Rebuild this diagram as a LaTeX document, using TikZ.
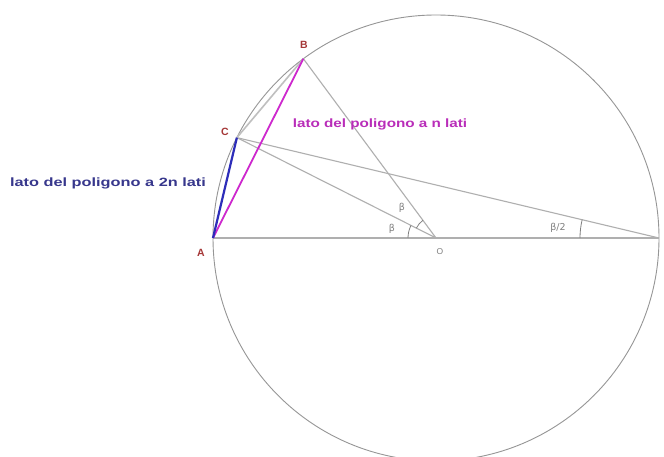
\documentclass[tikz,border=0pt]{standalone}
\usepackage{fontspec}
\setmainfont{Liberation Sans}
\newfontfamily\greekfont{DejaVu Sans}
\usetikzlibrary{calc}
\definecolor{linegray}{RGB}{175,175,175}
\definecolor{circgray}{RGB}{150,150,150}
\definecolor{mag}{RGB}{205,40,205}
\definecolor{bluel}{RGB}{45,45,185}
\definecolor{bluetext}{RGB}{55,55,140}
\definecolor{magtext}{RGB}{185,45,185}
\definecolor{ptred}{RGB}{165,55,55}
\begin{document}
\begin{tikzpicture}[x=1pt,y=1pt,
  seg/.style={draw=linegray,line width=1.1pt},
  ptlabel/.style={text=ptred,font=\bfseries\fontsize{10.5}{12}\selectfont,inner sep=0pt},
  anglabel/.style={text=gray,font=\greekfont\fontsize{9.5}{11}\selectfont,inner sep=0pt},
  caption/.style={font=\bfseries\fontsize{12}{14}\selectfont,inner sep=0pt}]
\useasboundingbox (0,0) rectangle (664,457);
\fill[white] (0,0) rectangle (664,457);
\coordinate (O) at (436,219);
\coordinate (A) at ($(O)+(180:223)$);
\coordinate (D) at ($(O)+(0:223)$);
\coordinate (B) at ($(O)+(126.5:223)$);
\coordinate (C) at ($(O)+(153.25:223)$);
% circle
\draw[circgray,line width=0.9pt] (O) circle (223);
% gray segments
\draw[seg] (A) -- (D);
\draw[seg] (B) -- (O);
\draw[seg] (C) -- (O);
\draw[seg] (C) -- (D);
\draw[seg,line width=1.6pt,draw=linegray!80] (C) -- (B);
% coloured sides
\draw[mag,line width=1.8pt] (A) -- (B);
\draw[bluel,line width=2.2pt] (A) -- (C);
% angle arcs
\draw[gray,line width=0.8pt] ($(O)+(153.25:28)$) arc[start angle=153.25,end angle=180,radius=28];
\draw[gray,line width=0.8pt] ($(O)+(126.5:22)$) arc[start angle=126.5,end angle=153.25,radius=22];
\draw[gray,line width=0.8pt] ($(D)+(180:79)$) arc[start angle=180,end angle=166.6,radius=79];
% labels
\node[ptlabel] (lA) at (201,204) {A};
\node[ptlabel] (lB) at (304,412) {B};
\node[ptlabel] (lC) at (225,325) {C};
\node[anglabel,font=\fontsize{8.5}{10}\selectfont] (lO) at (440,205) {O};
\node[anglabel] (b1) at (402,249) {β};
\node[anglabel] (b2) at (392,228) {β};
\node[anglabel] (b3) at (558,229) {β/2};
\node[caption,text=bluetext,xscale=1.36] (t1) at (108,274) {lato del poligono a 2n lati};
\node[caption,text=magtext,xscale=1.27] (t2) at (380,333) {lato del poligono a n lati};
\end{tikzpicture}
\end{document}
